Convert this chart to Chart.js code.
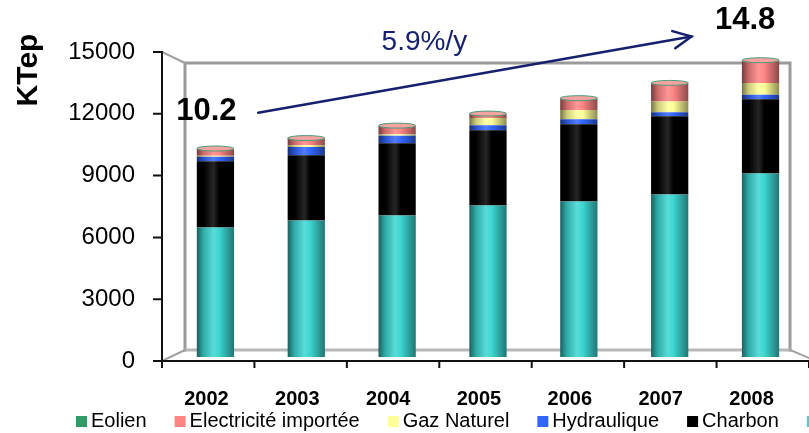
<!DOCTYPE html>
<html><head><meta charset="utf-8">
<script src="https://cdn.jsdelivr.net/npm/chart.js@4.4.0/dist/chart.umd.min.js"></script>
<style>html,body{margin:0;padding:0;background:#fff;overflow:hidden}</style>
</head><body>
<canvas id="c" width="809" height="433" style="display:block;width:809px;height:433px"></canvas>
<script>
// ---- data ----
const years = ['2002','2003','2004','2005','2006','2007','2008'];
const petrole     = [6450, 6800, 7050, 7550, 7750, 8100, 9150];
const charbon     = [3300, 3250, 3600, 3750, 3850, 3900, 3700];
const hydraulique = [230, 420, 380, 250, 250, 200, 220];
const gazNaturel  = [50, 80, 70, 360, 460, 530, 580];
const electricite = [350, 350, 420, 190, 550, 880, 1080];
const eolien      = [10, 10, 10, 30, 40, 50, 60];
const seriesNames = ['Pétrole','Charbon','Hydraulique','Gaz Naturel','Electricité importée','Eolien'];
const yTicks = [0, 3000, 6000, 9000, 12000, 15000];
const yTitle = 'KTep';
const startLabel = '10.2', endLabel = '14.8', growthLabel = '5.9%/y';

// ---- styles ----
const FONT = "'Liberation Sans', Arial, sans-serif";
const COLORS = ['#3cd6d2', '#000000', '#3366ff', '#ffff99', '#ff8585', '#339966'];
const BAR_PCT = 0.41;

function shade(hex, f) {
  const n = parseInt(hex.slice(1), 16);
  let r = n >> 16, g = (n >> 8) & 255, b = n & 255;
  if (f < 0) { r *= 1 + f; g *= 1 + f; b *= 1 + f; }
  else { r += (255 - r) * f; g += (255 - g) * f; b += (255 - b) * f; }
  return `rgb(${Math.round(r)},${Math.round(g)},${Math.round(b)})`;
}
function cylFill(base) {
  return (c) => {
    const chart = c.chart, xs = chart.scales && chart.scales.x;
    if (!xs || c.dataIndex === undefined || !isFinite(xs.width)) return base;
    const cx = xs.getPixelForValue(c.dataIndex);
    const w = xs.width / years.length * BAR_PCT;
    const g = chart.ctx.createLinearGradient(cx - w / 2, 0, cx + w / 2, 0);
    g.addColorStop(0, shade(base, -0.55));
    g.addColorStop(0.18, shade(base, -0.2));
    g.addColorStop(0.45, shade(base, 0.15));
    g.addColorStop(0.6, base);
    g.addColorStop(1, shade(base, -0.45));
    return g;
  };
}

const seriesData = [petrole, charbon, hydraulique, gazNaturel, electricite, eolien];
const datasets = seriesData.map((d, i) => ({
  label: seriesNames[i], data: d, yAxisID: 'y',
  backgroundColor: cylFill(COLORS[i]), borderWidth: 0,
  categoryPercentage: 1, barPercentage: BAR_PCT
}));

// 3D frame, front axis and tick marks
const framePlugin = {
  id: 'frame',
  beforeDatasetsDraw(chart) {
    const { ctx, chartArea: { left: L, top: T, bottom: B } } = chart;
    const W = chart.width, fx = L - 8;
    const bx1 = fx + 23, by1 = T + 11, bx2 = W - 19, by2 = B - 11;
    ctx.save();
    ctx.lineCap = 'square';
    // back wall
    ctx.strokeStyle = '#9a9a9a'; ctx.lineWidth = 3;
    ctx.beginPath();
    ctx.moveTo(bx1, by2); ctx.lineTo(bx1, by1); ctx.lineTo(bx2, by1); ctx.lineTo(bx2, by2);
    ctx.stroke();
    ctx.strokeStyle = '#b8b8b8'; ctx.lineWidth = 3;
    ctx.beginPath(); ctx.moveTo(bx1, by2); ctx.lineTo(bx2, by2); ctx.stroke();
    // side connections
    ctx.strokeStyle = '#a0a0a0'; ctx.lineWidth = 2;
    ctx.beginPath();
    ctx.moveTo(fx, T); ctx.lineTo(bx1, by1);
    ctx.moveTo(fx, B); ctx.lineTo(bx1, by2);
    ctx.moveTo(bx2, by2); ctx.lineTo(W, B - 3);
    ctx.stroke();
    // front axes
    ctx.strokeStyle = '#111'; ctx.lineWidth = 2;
    ctx.beginPath();
    ctx.moveTo(fx, T); ctx.lineTo(fx, B); ctx.lineTo(W, B);
    ctx.stroke();
    const yf = chart.scales.yFront;
    ctx.beginPath();
    yTicks.forEach(v => { const y = yf.getPixelForValue(v); ctx.moveTo(fx - 8, y); ctx.lineTo(fx, y); });
    for (let i = 0; i <= years.length; i++) {
      const x = fx + i * (W - fx) / years.length;
      ctx.moveTo(x, B); ctx.lineTo(x, B + 6);
    }
    ctx.stroke();
    ctx.restore();
  },
  afterDatasetsDraw(chart) {
    // cylinder top caps
    const ctx = chart.ctx;
    const meta = chart.getDatasetMeta(chart.data.datasets.length - 1);
    ctx.save();
    meta.data.forEach(el => {
      ctx.beginPath();
      ctx.ellipse(el.x, el.y, el.width / 2, 2.5, 0, 0, Math.PI * 2);
      ctx.fillStyle = '#f4a3a0'; ctx.fill();
      ctx.strokeStyle = '#4a9c7a'; ctx.lineWidth = 1; ctx.stroke();
    });
    ctx.restore();
  }
};

// annotations, axis title and legend
const annoPlugin = {
  id: 'anno',
  afterDraw(chart) {
    const ctx = chart.ctx, xs = chart.scales.x, yf = chart.scales.yFront;
    ctx.save();
    ctx.fillStyle = '#000';
    // y title
    ctx.save();
    ctx.translate(29, 70); ctx.rotate(-Math.PI / 2);
    ctx.font = `bold 30px ${FONT}`; ctx.textAlign = 'center'; ctx.textBaseline = 'middle';
    ctx.fillText(yTitle, 0, 0);
    ctx.restore();
    // value labels
    ctx.font = `bold 31px ${FONT}`; ctx.textAlign = 'center'; ctx.textBaseline = 'middle';
    ctx.fillText(startLabel, xs.getPixelForValue(-0.1), yf.getPixelForValue(12100));
    ctx.fillText(endLabel, xs.getPixelForValue(5.83), yf.getPixelForValue(16550));
    // growth arrow
    const navy = '#16206e';
    const x1 = xs.getPixelForValue(0.47), y1 = yf.getPixelForValue(12050);
    const x2 = xs.getPixelForValue(5.24), y2 = yf.getPixelForValue(15750);
    ctx.strokeStyle = navy; ctx.lineWidth = 2.5; ctx.lineCap = 'round';
    ctx.beginPath(); ctx.moveTo(x1, y1); ctx.lineTo(x2, y2); ctx.stroke();
    const a = Math.atan2(y2 - y1, x2 - x1), hl = 20, ha = 0.45;
    ctx.beginPath();
    ctx.moveTo(x2 - hl * Math.cos(a - ha), y2 - hl * Math.sin(a - ha));
    ctx.lineTo(x2, y2);
    ctx.lineTo(x2 - hl * Math.cos(a + ha), y2 - hl * Math.sin(a + ha));
    ctx.stroke();
    ctx.fillStyle = navy; ctx.font = `28px ${FONT}`;
    ctx.fillText(growthLabel, xs.getPixelForValue(2.3), yf.getPixelForValue(15450));
    // legend (reverse order, single row, clipped at the right edge)
    ctx.font = `20px ${FONT}`; ctx.textAlign = 'left'; ctx.textBaseline = 'middle';
    let x = 76; const ly = 421;
    for (let i = seriesNames.length - 1; i >= 0; i--) {
      ctx.fillStyle = COLORS[i];
      ctx.fillRect(x, ly - 5, 11, 11);
      ctx.fillStyle = '#000';
      ctx.fillText(seriesNames[i], x + 15, ly);
      x += 15 + ctx.measureText(seriesNames[i]).width + 28;
    }
    ctx.restore();
  }
};

new Chart(document.getElementById('c'), {
  type: 'bar',
  data: { labels: years, datasets },
  options: {
    responsive: false, animation: false, devicePixelRatio: 1,
    layout: { padding: { top: 52, right: 3, left: 0, bottom: 0 } },
    plugins: { legend: { display: false }, tooltip: { enabled: false } },
    scales: {
      x: {
        stacked: true, offset: true,
        grid: { display: false, drawTicks: false }, border: { display: false },
        ticks: { color: '#000', font: { family: FONT, size: 20, weight: 'bold' }, padding: 26, labelOffset: -9, maxRotation: 0, autoSkip: false },
        afterFit(s) { s.height = 72; }
      },
      y: { stacked: true, display: false, min: -200, max: 15200 },
      yFront: {
        type: 'linear', position: 'left', min: 0, max: 15000,
        afterBuildTicks(s) { s.ticks = yTicks.map(v => ({ value: v })); },
        grid: { display: false, drawTicks: false }, border: { display: false },
        ticks: { color: '#000', font: { family: FONT, size: 24 }, padding: 35, callback: v => String(v) },
        afterFit(s) { s.width = 170; }
      }
    }
  },
  plugins: [framePlugin, annoPlugin]
});
</script>
</body></html>
